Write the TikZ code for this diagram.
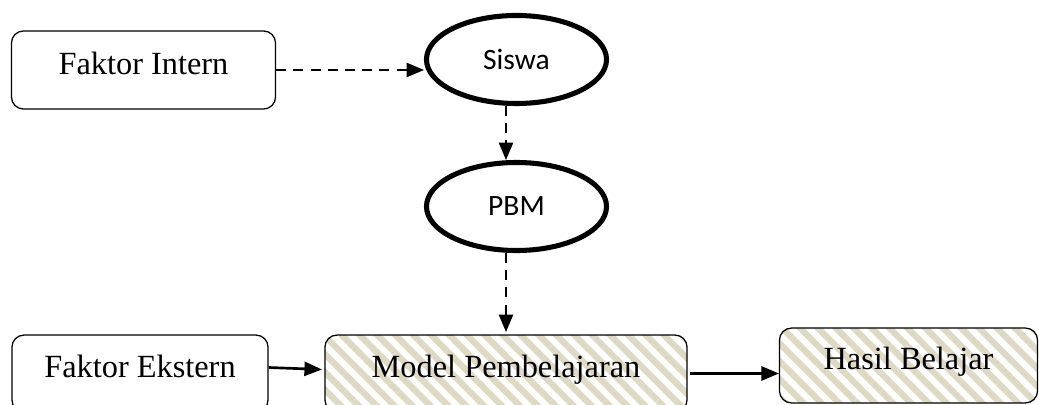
\documentclass[tikz,border=0pt]{standalone}
\usepackage{fontspec}
\setmainfont{Liberation Serif}
\newfontfamily\calibrifont{Carlito}
\usetikzlibrary{arrows,shapes.geometric,patterns.meta}
\definecolor{ddddcc}{rgb}{0.87,0.85,0.76}

\tikzset{
  faktor/.style={draw,line width=0.9pt,rounded corners=0.3cm,text height=0.78em,text depth=0.14em,
    font=\fontsize{23}{27}\selectfont},
  arsir/.style={faktor,pattern={Lines[angle=-45,distance=9pt,line width=4.5pt]},pattern color=ddddcc},
  elips/.style={ellipse,draw,line width=3.6pt,minimum width=4.5cm,minimum height=2.2cm,inner sep=0pt,
    font=\calibrifont\fontsize{21}{25}\selectfont},
  panah/.style={->,line width=1.9pt},
  putus/.style={panah,dash pattern=on 0.25cm off 0.18cm}
}

\begin{document}
\begin{tikzpicture}[line join=round,>=triangle 45,x=0.025cm,y=-0.025cm]
\clip (0,0) rectangle (1039,405);
% kotak faktor dan hasil
\node[faktor,minimum width=6.6cm,minimum height=1.95cm] (intern) at (143.5,70) {Faktor Intern};
\node[faktor,minimum width=6.4cm,minimum height=1.92cm] (ekstern) at (140,373.5) {Faktor Ekstern};
\node[arsir,minimum width=9.05cm,minimum height=1.92cm] (model) at (506,373.5) {Model Pembelajaran};
\node[arsir,minimum width=6.45cm,minimum height=1.87cm] (hasil) at (908.5,365.5) {Hasil Belajar};
% elips
\node[elips] (siswa) at (516.5,59.5) {Siswa};
\node[elips] (pbm) at (516.5,206.5) {PBM};
% panah
\draw[putus] (intern.east) -- (intern.east -| siswa.west);
\draw[putus] (siswa.south -| model.north) -- (pbm.north -| model.north);
\draw[putus] (pbm.south -| model.north) -- (model.north);
\draw[panah] ([yshift=0.15cm]ekstern.east) -- ([yshift=0.1cm]model.west);
\draw[panah] (model.east) -- (model.east -| hasil.west);
\end{tikzpicture}
\end{document}
